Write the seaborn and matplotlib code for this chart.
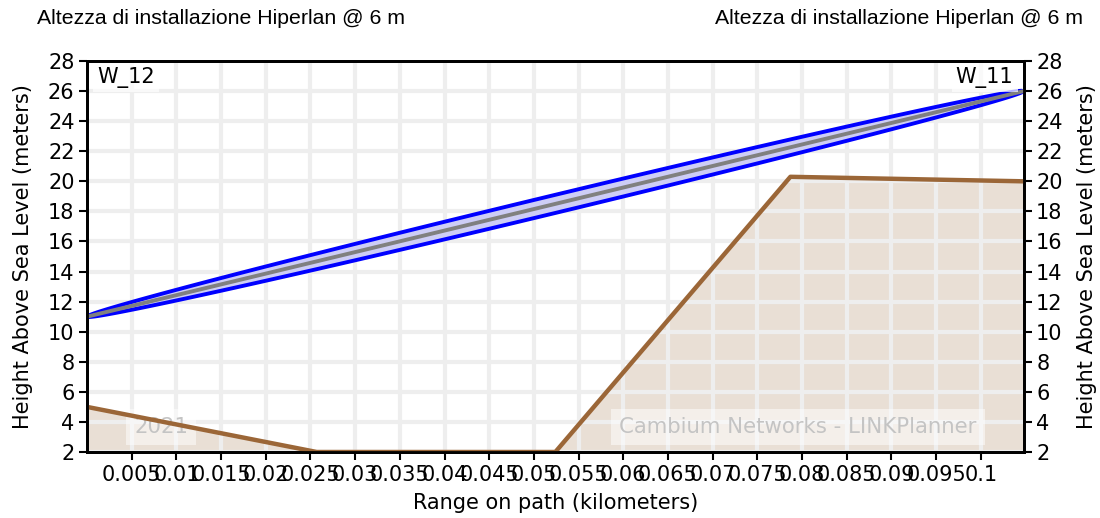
import numpy as np
import pandas as pd
import matplotlib
matplotlib.use("Agg")
import matplotlib.pyplot as plt
import seaborn as sns

# Link endpoints and path
site_names = ["W_12", "W_11"]
path_length_km = 0.1048
antenna_heights = [11.0, 26.0]          # antenna height above sea level (m)
frequency_ghz = 5.5                      # Hiperlan band
fresnel_fraction = 0.5                   # portion of the first Fresnel zone drawn

# Terrain profile along the path
terrain_km = [0.0, 0.0257, 0.0524, 0.0787, 0.1048]
terrain_m = [5.0, 2.0, 2.0, 20.3, 20.0]

# Axis ticks
x_ticks = [0.005, 0.01, 0.015, 0.02, 0.025, 0.03, 0.035, 0.04, 0.045, 0.05,
           0.055, 0.06, 0.065, 0.07, 0.075, 0.08, 0.085, 0.09, 0.095, 0.1]
x_tick_labels = ["0.005", "0.01", "0.015", "0.02", "0.025", "0.03", "0.035",
                 "0.04", "0.045", "0.05", "0.055", "0.06", "0.065", "0.07",
                 "0.075", "0.08", "0.085", "0.09", "0.095", "0.1"]
y_ticks = [2, 4, 6, 8, 10, 12, 14, 16, 18, 20, 22, 24, 26, 28]

title_text = "Altezza di installazione Hiperlan @ 6 m"
x_label = "Range on path (kilometers)"
y_label = "Height Above Sea Level (meters)"

sns.set_theme(style="white")
plt.rcParams["font.family"] = ["DejaVu Sans"]
plt.rcParams["text.color"] = "black"
plt.rcParams["axes.labelcolor"] = "black"
plt.rcParams["xtick.color"] = "black"
plt.rcParams["ytick.color"] = "black"

FS = 15

fig = plt.figure(figsize=(11, 5.18), dpi=100)
ax = fig.add_axes([0.0791, 0.1274, 0.8515, 0.7548])

terrain_df = pd.DataFrame({"range": terrain_km, "height": terrain_m})
los_df = pd.DataFrame({"range": [0.0, path_length_km], "height": antenna_heights})

# Terrain fill and outline
ax.fill_between(terrain_km, terrain_m, 0, color="#e9dfd5", zorder=0.5, linewidth=0)
sns.lineplot(data=terrain_df, x="range", y="height", ax=ax, color="#9b6637",
             linewidth=3.2, zorder=3, sort=False)

# Fresnel zone around the line of sight
wavelength = 0.299792458 / frequency_ghz
d_total = path_length_km * 1000.0
xs = np.linspace(0.0, path_length_km, 400)
d1 = xs * 1000.0
d2 = d_total - d1
radius = fresnel_fraction * np.sqrt(np.clip(wavelength * d1 * d2 / d_total, 0, None))
slope = (antenna_heights[1] - antenna_heights[0]) / d_total
cos_a = 1.0 / np.sqrt(1.0 + slope ** 2)
los_y = antenna_heights[0] + slope * d1
upper = los_y + radius / cos_a
lower = los_y - radius / cos_a
poly_x = np.concatenate([xs, xs[::-1]])
poly_y = np.concatenate([upper, lower[::-1]])
ax.fill(poly_x, poly_y, facecolor="#cdcdf6", edgecolor="#0000ff",
        linewidth=2.8, zorder=4, joinstyle="miter")
sns.lineplot(data=los_df, x="range", y="height", ax=ax, color="#808080",
             linewidth=2.8, zorder=5)

# Grid drawn over the terrain fill
ax.set_axisbelow("line")
ax.grid(True, color="#eeeeee", linewidth=3)

ax.set_xlim(0, path_length_km)
ax.set_ylim(2, 28)
ax.set_xticks(x_ticks)
ax.set_xticklabels(x_tick_labels)
ax.set_yticks(y_ticks)
ax.tick_params(axis="both", direction="out", length=6, width=1.5, color="black",
               labelsize=FS, bottom=True, left=True, pad=3)
ax.set_xlabel(x_label, fontsize=FS, labelpad=6)
ax.set_ylabel(y_label, fontsize=FS, labelpad=11)
for sp in ax.spines.values():
    sp.set_color("black")
    sp.set_linewidth(2)

ax2 = ax.twinx()
ax2.set_ylim(2, 28)
ax2.set_yticks(y_ticks)
ax2.tick_params(axis="y", direction="out", length=6, width=1.5, color="black",
                labelsize=FS, right=True, pad=3)
ax2.set_ylabel(y_label, fontsize=FS, labelpad=10)
ax2.grid(False)
for sp in ax2.spines.values():
    sp.set_color("black")
    sp.set_linewidth(2)

# Site labels
box = dict(facecolor="white", edgecolor="none", alpha=0.7, pad=3)
ax.text(0.011, 0.985, site_names[0], transform=ax.transAxes, ha="left", va="top",
        fontsize=FS, bbox=box, zorder=6)
ax.text(0.989, 0.985, site_names[1], transform=ax.transAxes, ha="right", va="top",
        fontsize=FS, bbox=box, zorder=6)

# Watermarks
wm_box = dict(facecolor="white", edgecolor="none", alpha=0.5, pad=6)
ax.text(0.079, 0.064, "2021", transform=ax.transAxes, ha="center", va="center",
        fontsize=15.3, color="#c4c4c4", bbox=wm_box, zorder=2)
ax.text(0.759, 0.064, "Cambium Networks - LINKPlanner", transform=ax.transAxes,
        ha="center", va="center", fontsize=15.3, color="#c4c4c4", bbox=wm_box, zorder=2)

# Titles
fig.text(37 / 1100, 1 - 18 / 518, title_text, ha="left", va="center",
         fontsize=15.3, family="Liberation Sans")
fig.text(1083 / 1100, 1 - 18 / 518, title_text, ha="right", va="center",
         fontsize=15.3, family="Liberation Sans")

fig.savefig("out.png", dpi=100)
